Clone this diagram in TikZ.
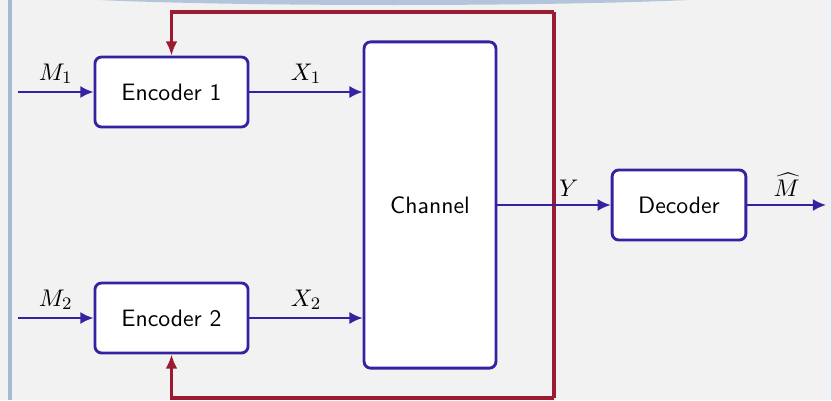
\documentclass[tikz,border=0pt]{standalone}
\usepackage{tikz}
\usetikzlibrary{arrows.meta}
\definecolor{sigblue}{HTML}{3522A0}
\definecolor{fbred}{HTML}{9B1B33}
\definecolor{blockgray}{HTML}{F2F2F2}
\definecolor{frameblue}{HTML}{A3BAD5}
\tikzset{
	unitbox/.style={draw=sigblue, line width=1.3pt, fill=white, rounded corners=3pt, font=\sffamily\fontsize{10.8}{13}\selectfont, inner sep=0pt},
	sigline/.style={sigblue, line width=0.9pt, -{Latex[length=6pt,width=5.5pt]}},
	fbline/.style={fbred, line width=1.8pt, -{Latex[length=6.5pt,width=5.5pt]}},
	siglabel/.style={above, text=black, font=\fontsize{11}{13}\selectfont},
}

\begin{document}
\begin{tikzpicture}
		%%%%% START %%%%%
		\useasboundingbox (0, 0) rectangle (13.312, 6.4);
		\fill[blockgray] (0, 0) rectangle (13.312, 6.4);
		\draw[frameblue, line width=0.05cm] (0.16, 0) -- (0.16, 6.4);
		\draw[frameblue!60, line width=0.02cm] (13.3, 0) -- (13.3, 6.4);
		\fill[frameblue, opacity=0.8] (6.3, 6.52) ellipse (5.9 and 0.2);
		
		% boxes
		\node[unitbox, minimum width=2.45cm, minimum height=1.12cm] (enc1) at (2.744, 4.928) {Encoder 1};
		\node[unitbox, minimum width=2.45cm, minimum height=1.12cm] (enc2) at (2.744, 1.312) {Encoder 2};
		\node[unitbox, minimum width=2.11cm, minimum height=5.22cm] (chan) at (6.88, 3.12) {Channel};
		\node[unitbox, minimum width=2.14cm, minimum height=1.12cm] (dec) at (10.864, 3.12) {Decoder};
		
		% free ends
		\coordinate (in1) at (0.288, 4.928);
		\coordinate (in2) at (0.288, 1.312);
		\coordinate (out) at (13.216, 3.12);
		\coordinate (fbtop) at (8.864, 6.208);
		\coordinate (fbbot) at (8.864, 0.032);
		
		% feedback
		\draw[fbred, line width=1.8pt] (fbbot) -- (fbtop);
		\draw[fbline] (fbtop) -| (enc1.north);
		\draw[fbline] (fbbot) -| (enc2.south);
		
		% signals
		\draw[sigline] (in1) -- node[siglabel] {$M_1$} (enc1.west);
		\draw[sigline] (in2) -- node[siglabel] {$M_2$} (enc2.west);
		\draw[sigline] (enc1.east) -- node[siglabel] {$X_1$} (chan.west |- enc1.east);
		\draw[sigline] (enc2.east) -- node[siglabel] {$X_2$} (chan.west |- enc2.east);
		\draw[sigline] (chan.east) -- node[siglabel, pos=0.63] {$Y$} (dec.west);
		\draw[sigline] (dec.east) -- node[siglabel] {$\widehat{M}$} (out);
		%%%%% END %%%%%
\end{tikzpicture}
\end{document}
